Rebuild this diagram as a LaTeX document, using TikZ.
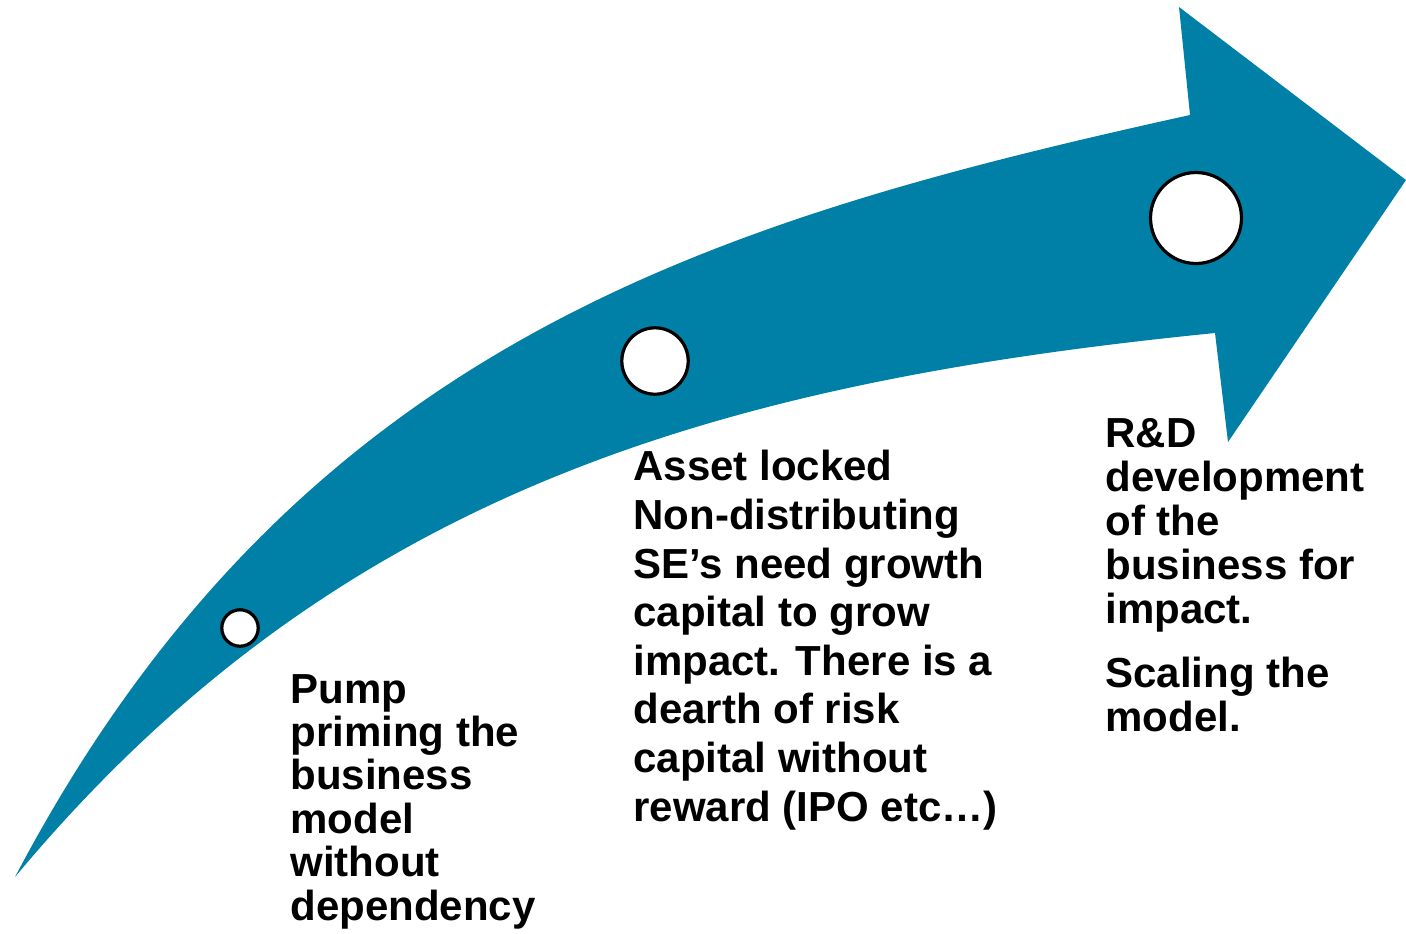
\documentclass[tikz,border=0pt]{standalone}
\usepackage{fontspec}
\setmainfont{Liberation Sans}
\definecolor{arrowblue}{RGB}{0,128,166}
\begin{document}
\begin{tikzpicture}[x=0.5pt,y=-0.5pt,
  dot/.style={circle,draw=black,fill=white,line width=1.6pt,inner sep=0pt},
  label/.style={anchor=base west,inner sep=0pt,align=left}]
\useasboundingbox (0,0) rectangle (1406,933);
% curved arrow
\fill[arrowblue] (15,877) .. controls (295,345) and (710,221) .. (1190,115)
  -- (1179,7) -- (1406,180) -- (1228,442) -- (1215,333)
  .. controls (715,383) and (335,493) .. (15,877) -- cycle;
% milestones
\node[dot,minimum size=18.2pt] (c1) at (240,628) {};
\node[dot,minimum size=33.2pt] (c2) at (655,361) {};
\node[dot,minimum size=45.5pt] (c3) at (1196,218) {};
% texts (base anchor = baseline of the last line)
\node[label,font=\bfseries\fontsize{21}{21.7}\selectfont] (t1) at (290,920)
  {Pump\\priming the\\business\\model\\without\\dependency};
\node[label,font=\bfseries\fontsize{21}{24.3}\selectfont] (t2) at (633,821)
  {Asset locked\\Non-distributing\\SE’s need growth\\capital to grow\\impact. There is a\\dearth of risk\\capital without\\reward (IPO etc…)};
\node[label,font=\bfseries\fontsize{21}{22}\selectfont] (t3) at (1105,731)
  {R\&D\\development\\of the\\business for\\impact.\\[10pt]Scaling the\\model.};
\end{tikzpicture}
\end{document}
